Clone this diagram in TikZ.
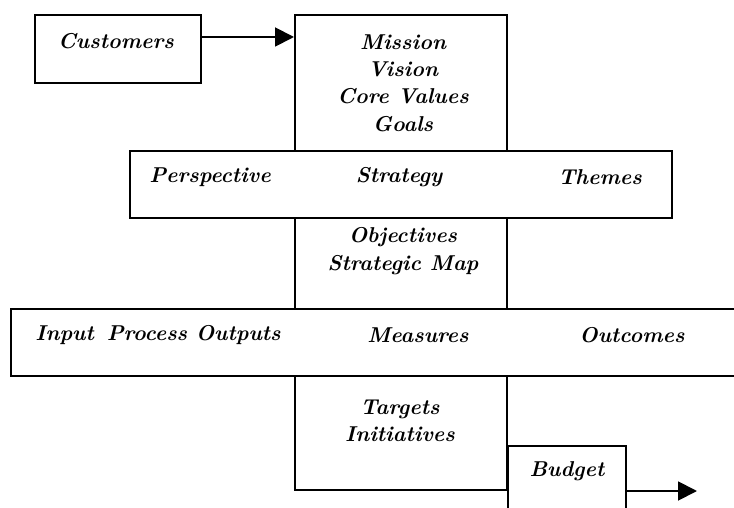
\documentclass[tikz,border=0pt]{standalone}
\usepackage{fontspec}
\usetikzlibrary{arrows.meta}
\begin{document}
\begin{tikzpicture}[x=1pt,y=-1pt,
  box/.style={draw, line width=1.9pt, rectangle, inner sep=0pt, anchor=north west},
  lbl/.style={font=\fontsize{21.5}{27.3}\selectfont\bfseries\itshape, align=center, inner sep=0pt},
  arr/.style={line width=1.9pt, -{Triangle[length=19pt,width=19pt]}}]
\useasboundingbox (0,0) rectangle (734,508);
% boxes
\node[box, minimum width=166pt, minimum height=68pt] (cust) at (34,14) {};
\node[box, minimum width=212pt, minimum height=136pt] (mission) at (294,14) {};
\node[box, minimum width=542pt, minimum height=67pt] (strat) at (129,150) {};
\node[box, minimum width=212pt, minimum height=91pt] (obj) at (294,217) {};
\node[box, minimum width=780pt, minimum height=67pt] (meas) at (10,308) {};
\node[box, minimum width=212pt, minimum height=114pt] (targ) at (294,375) {};
\node[box, minimum width=118pt, minimum height=100pt] (budget) at (507,445) {};
% texts
\node[lbl] (tcust) at (116,41) {Customers};
\node[lbl] (tmission) at (403,83) {Mission\\Vision\\Core Values\\Goals};
\node[lbl] (tpersp) at (210,177) {Perspective};
\node[lbl] (tstrat) at (399,177) {Strategy};
\node[lbl] (tthemes) at (600,177) {Themes};
\node[lbl] (tobj) at (403,251) {Objectives\\Strategic Map};
\node[lbl] (tipo) at (158,335) {Input\hspace{0.6em}Process\hspace{0.4em}Outputs};
\node[lbl] (tmeas) at (418,335) {Measures};
\node[lbl] (toutc) at (632,335) {Outcomes};
\node[lbl] (ttarg) at (400,421) {Targets\\Initiatives};
\node[lbl] (tbudget) at (567,471) {Budget};
% arrows
\coordinate (arrin) at (0,37);
\draw[arr] (cust.east |- arrin) -- (mission.west |- arrin);
\coordinate (bout) at (697,491);
\draw[arr] (budget.east |- bout) -- (bout);
\end{tikzpicture}
\end{document}
